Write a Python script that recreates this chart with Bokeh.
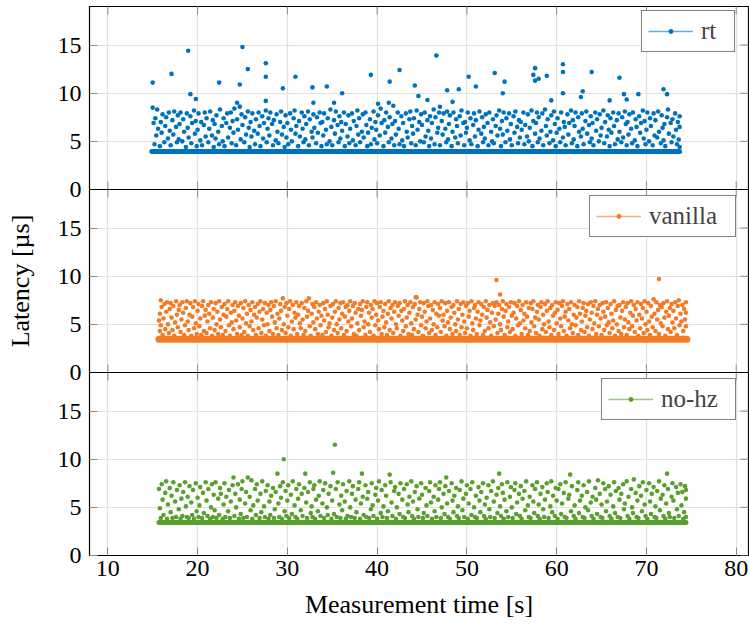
from bokeh.plotting import figure
from bokeh.models import (Range1d, LinearAxis, FixedTicker, Span, Legend, LegendItem,
                          ColumnDataSource)
from bokeh.embed import file_html
from bokeh.resources import INLINE

# ---------------- data ----------------
SERIES = ["rt", "vanilla", "no-hz"]
XTICKS = [10, 20, 30, 40, 50, 60, 70, 80]
YTICKS = [0, 5, 10, 15]
X_START, X_END = 7.96, 81.37
Y_MAX = 19.0
X_LABEL = "Measurement time [s]"
Y_LABEL = "Latency [µs]"

# dense baseline band of each run: (first time, last time, latency)
RT_BASE = (14.9, 73.7, 3.95)
VANILLA_BASE = (15.7, 74.5, 3.45)
NOHZ_BASE = (15.7, 74.4, 3.42)

RT_POINTS = [
(15.0,8.5),(15.1,6.9),(15.2,4.7),(15.3,7.4),(15.4,5.6),(15.5,8.3),(15.6,6.3),(15.8,4.5),(15.9,7.0),
(16.0,5.9),(16.1,7.8),(16.3,4.9),(16.4,6.6),(16.5,7.5),(16.7,5.3),(16.8,8.0),(16.9,6.1),
(17.0,4.6),(17.2,7.2),(17.3,5.7),(17.4,8.1),(17.6,6.5),(17.7,4.9),(17.8,7.7),(17.9,5.2),
(18.0,6.8),(18.1,8.0),(18.3,5.0),(18.4,7.3),(18.5,6.0),(18.7,4.4),(18.8,7.9),(18.9,6.4),
(19.0,5.4),(19.2,7.6),(19.3,4.8),(19.4,6.9),(19.6,8.2),(19.7,5.8),(19.8,7.1),(19.9,4.5),
(20.0,6.2),(20.1,7.9),(20.3,5.1),(20.4,7.0),(20.5,4.6),(20.7,6.7),(20.8,8.0),(20.9,5.5),
(21.0,7.4),(21.2,4.9),(21.3,6.3),(21.4,8.1),(21.6,5.6),(21.7,7.2),(21.8,4.4),(21.9,6.8),
(22.0,5.3),(22.1,7.7),(22.3,6.0),(22.4,4.7),(22.5,8.3),(22.7,6.6),(22.8,5.0),(22.9,7.4),
(23.0,4.5),(23.2,6.9),(23.3,7.9),(23.4,5.4),(23.6,6.4),(23.7,8.0),(23.8,4.8),(23.9,7.1),
(24.0,5.9),(24.1,8.4),(24.3,4.6),(24.4,7.3),(24.5,6.2),(24.7,8.6),(24.8,5.2),(24.9,7.8),
(25.0,6.7),(25.2,4.9),(25.3,7.5),(25.4,5.7),(25.6,8.1),(25.7,6.4),(25.8,4.4),(25.9,7.0),
(26.0,5.5),(26.1,7.9),(26.3,6.1),(26.4,4.7),(26.5,7.3),(26.7,5.8),(26.8,8.0),(26.9,6.6),
(27.0,4.5),(27.2,7.6),(27.3,5.3),(27.4,6.9),(27.6,8.2),(27.7,4.9),(27.8,6.3),(27.9,7.4),
(28.0,5.6),(28.1,8.0),(28.3,6.8),(28.4,4.6),(28.5,7.2),(28.7,5.1),(28.8,7.8),(28.9,6.0),
(29.0,4.8),(29.2,7.0),(29.3,8.1),(29.4,5.7),(29.6,6.5),(29.7,4.4),(29.8,7.7),(29.9,5.4),
(30.0,6.9),(30.1,4.7),(30.3,7.9),(30.4,6.2),(30.5,5.0),(30.7,7.4),(30.8,8.2),(30.9,5.8),
(31.0,6.6),(31.2,4.5),(31.3,7.1),(31.4,5.5),(31.6,8.0),(31.7,6.3),(31.8,4.9),(31.9,7.6),
(32.0,5.2),(32.1,6.8),(32.3,8.1),(32.4,4.6),(32.5,7.3),(32.7,6.0),(32.8,5.4),(32.9,7.8),
(33.0,6.4),(33.2,4.8),(33.3,7.5),(33.4,5.9),(33.6,8.0),(33.7,6.9),(33.8,4.5),(33.9,7.0),
(34.0,5.6),(34.1,7.9),(34.3,6.2),(34.4,4.7),(34.5,7.4),(34.7,5.0),(34.8,8.3),(34.9,6.5),
(35.0,4.6),(35.2,7.2),(35.3,5.8),(35.4,8.1),(35.6,6.7),(35.7,4.9),(35.8,7.6),(35.9,5.3),
(36.0,7.0),(36.1,6.1),(36.3,8.0),(36.4,4.5),(36.5,6.8),(36.7,5.5),(36.8,7.7),(36.9,4.8),
(37.0,6.3),(37.2,7.9),(37.3,5.1),(37.4,7.1),(37.6,4.6),(37.7,6.6),(37.8,8.2),(37.9,5.7),
(38.0,7.4),(38.1,4.9),(38.3,6.0),(38.4,7.8),(38.5,5.4),(38.7,8.0),(38.8,6.7),(38.9,4.5),
(39.0,5.9),(39.2,7.3),(39.3,4.7),(39.4,6.4),(39.6,8.1),(39.7,5.2),(39.8,7.0),(39.9,6.2),
(40.0,4.8),(40.1,7.7),(40.3,5.6),(40.4,8.4),(40.5,6.9),(40.7,4.5),(40.8,7.2),(40.9,5.9),
(41.0,8.0),(41.2,6.5),(41.3,4.9),(41.4,7.5),(41.6,5.3),(41.7,6.8),(41.8,8.7),(41.9,4.6),
(42.0,7.1),(42.1,5.7),(42.3,8.0),(42.4,6.3),(42.5,4.7),(42.7,7.6),(42.8,5.1),(42.9,6.9),
(43.0,4.5),(43.2,7.9),(43.3,6.0),(43.4,5.4),(43.6,7.3),(43.7,8.1),(43.8,4.8),(43.9,6.6),
(44.0,5.8),(44.1,7.4),(44.3,4.6),(44.4,8.2),(44.5,6.2),(44.7,7.0),(44.8,5.0),(44.9,7.8),
(45.0,6.7),(45.2,4.9),(45.3,8.0),(45.4,5.5),(45.6,7.2),(45.7,6.1),(45.8,4.5),(45.9,7.6),
(46.0,5.3),(46.1,6.9),(46.3,8.3),(46.4,4.7),(46.5,7.5),(46.7,5.9),(46.8,6.4),(46.9,8.0),
(47.0,4.6),(47.2,7.1),(47.3,5.7),(47.4,7.9),(47.6,6.3),(47.7,4.9),(47.8,8.1),(47.9,5.2),
(48.0,6.8),(48.1,7.7),(48.3,4.5),(48.4,6.0),(48.5,8.0),(48.7,5.4),(48.8,7.3),(48.9,6.6),
(49.0,4.8),(49.2,7.6),(49.3,5.6),(49.4,8.2),(49.6,6.9),(49.7,4.6),(49.8,7.0),(49.9,5.9),
(50.0,6.4),(50.1,8.0),(50.3,5.1),(50.4,7.4),(50.5,4.7),(50.7,6.7),(50.8,7.9),(50.9,5.5),
(51.0,7.2),(51.2,4.5),(51.3,6.2),(51.4,8.1),(51.6,5.8),(51.7,7.5),(51.8,4.9),(51.9,6.5),
(52.0,5.3),(52.1,7.8),(52.3,6.9),(52.4,4.6),(52.5,8.0),(52.7,6.0),(52.8,5.0),(52.9,7.3),
(53.0,4.8),(53.2,6.6),(53.3,7.7),(53.4,5.6),(53.6,8.2),(53.7,6.3),(53.8,4.5),(53.9,7.1),
(54.0,5.7),(54.1,8.0),(54.3,4.9),(54.4,7.4),(54.5,6.1),(54.7,7.9),(54.8,5.2),(54.9,6.8),
(55.0,4.6),(55.2,7.6),(55.3,5.9),(55.4,8.1),(55.6,6.5),(55.7,4.8),(55.8,7.2),(55.9,5.4),
(56.0,7.0),(56.1,6.2),(56.3,8.0),(56.4,4.7),(56.5,6.7),(56.7,5.5),(56.8,7.8),(56.9,5.0),
(57.0,6.4),(57.2,8.2),(57.3,4.5),(57.4,7.1),(57.6,5.8),(57.7,6.9),(57.8,8.0),(57.9,4.9),
(58.0,7.5),(58.1,5.3),(58.3,6.1),(58.4,7.9),(58.5,4.6),(58.7,8.3),(58.8,6.6),(58.9,5.6),
(59.0,7.3),(59.2,4.8),(59.3,6.0),(59.4,7.7),(59.6,5.1),(59.7,8.1),(59.8,6.8),(59.9,4.5),
(60.0,5.9),(60.1,7.4),(60.3,6.3),(60.4,4.9),(60.5,8.0),(60.7,5.4),(60.8,7.0),(60.9,6.5),
(61.0,4.6),(61.2,7.8),(61.3,5.7),(61.4,6.9),(61.6,8.2),(61.7,4.8),(61.8,7.2),(61.9,5.2),
(62.0,6.6),(62.1,8.0),(62.3,4.5),(62.4,7.5),(62.5,6.0),(62.7,5.5),(62.8,7.9),(62.9,6.3),
(63.0,4.7),(63.2,7.1),(63.3,8.1),(63.4,5.8),(63.6,6.7),(63.7,4.9),(63.8,7.6),(63.9,5.3),
(64.0,6.9),(64.1,4.6),(64.3,8.0),(64.4,6.1),(64.5,7.3),(64.7,5.0),(64.8,7.8),(64.9,5.6),
(65.0,6.4),(65.2,8.2),(65.3,4.8),(65.4,7.0),(65.6,5.5),(65.7,7.7),(65.8,6.2),(65.9,4.5),
(66.0,7.4),(66.1,5.9),(66.3,8.0),(66.4,6.6),(66.5,4.7),(66.7,7.2),(66.8,5.2),(66.9,7.9),
(67.0,6.0),(67.2,4.9),(67.3,7.5),(67.4,5.4),(67.6,8.1),(67.7,6.8),(67.8,4.6),(67.9,7.0),
(68.0,5.7),(68.1,7.8),(68.3,6.3),(68.4,4.8),(68.5,8.0),(68.7,5.1),(68.8,7.3),(68.9,6.5),
(69.0,4.5),(69.2,7.6),(69.3,5.9),(69.4,6.9),(69.6,8.2),(69.7,5.3),(69.8,7.1),(69.9,4.7),
(70.0,6.2),(70.1,8.0),(70.3,5.0),(70.4,7.4),(70.5,6.6),(70.7,4.6),(70.8,7.9),(70.9,5.6),
(71.0,7.2),(71.2,5.4),(71.3,8.1),(71.4,6.0),(71.6,4.8),(71.7,7.7),(71.8,6.4),(71.9,5.1),
(72.0,6.8),(72.1,4.5),(72.3,7.5),(72.4,8.3),(72.5,5.8),(72.7,6.9),(72.8,4.9),(72.9,7.3),
(73.0,5.5),(73.2,7.9),(73.3,6.2),(73.4,4.7),(73.5,7.0),(73.6,5.2),(73.7,6.5),(73.7,4.4),(73.7,7.6),
# sparse high latencies
(15.0,11.1),(17.1,12.0),(18.95,14.4),(19.2,9.9),(19.8,9.4),(22.4,11.1),(25.0,14.8),(25.6,12.5),
(24.7,10.9),(24.4,9.0),(27.6,13.1),(27.6,11.7),(27.6,9.2),(29.5,10.5),(30.9,11.7),(32.8,10.6),
(32.9,9.0),(34.4,10.7),(35.2,9.0),(36.1,10.0),(39.3,11.9),(40.1,8.9),(41.3,9.0),(41.4,11.2),
(42.5,12.4),(44.2,10.8),(44.6,9.7),(45.6,9.3),(46.6,13.9),(47.8,10.3),(47.0,8.6),(49.1,10.4),
(48.4,9.1),(50.2,11.7),(51.0,10.7),(53.1,12.1),(54.2,11.2),(54.0,10.0),(57.6,12.6),(57.4,11.9),
(57.6,11.3),(58.0,11.5),(58.9,11.8),(59.4,9.25),(60.7,13.0),(60.7,12.2),(60.7,10.0),(62.7,9.6),
(62.9,10.2),(63.9,12.2),(65.9,9.25),(67.0,11.6),(67.5,9.9),(67.8,9.35),(69.1,9.9),(71.9,10.4),
(72.3,9.9),
]

VANILLA_POINTS = [
(15.7,5.4),(15.8,6.1),(15.8,4.3),(15.9,7.5),(15.9,4.9),
(16.0,6.8),(16.1,3.9),(16.2,5.6),(16.3,7.1),(16.4,4.5),(16.5,6.3),(16.6,7.3),(16.7,5.0),(16.8,4.1),(16.9,6.6),
(17.0,7.2),(17.1,5.7),(17.2,4.4),(17.3,6.9),(17.4,3.8),(17.5,5.2),(17.6,7.4),(17.7,6.0),(17.8,4.7),(17.9,6.5),
(18.0,7.0),(18.1,4.2),(18.2,5.5),(18.3,7.3),(18.4,6.2),(18.5,3.9),(18.6,4.9),(18.7,6.7),(18.8,7.4),(18.9,5.3),
(19.0,4.4),(19.1,6.0),(19.2,7.2),(19.3,3.8),(19.4,5.8),(19.5,6.8),(19.6,4.6),(19.7,7.4),(19.8,5.1),(19.9,4.0),
(20.0,6.4),(20.1,7.1),(20.2,4.8),(20.3,5.6),(20.4,3.9),(20.5,6.9),(20.6,7.4),(20.7,4.3),(20.8,5.9),(20.9,6.5),
(21.0,4.1),(21.1,5.3),(21.2,7.0),(21.3,6.1),(21.4,4.6),(21.5,7.3),(21.6,3.8),(21.7,5.7),(21.8,6.6),(21.9,4.4),
(22.0,7.2),(22.1,5.0),(22.2,6.3),(22.3,4.0),(22.4,7.4),(22.5,5.5),(22.6,4.7),(22.7,6.8),(22.8,3.9),(22.9,6.0),
(23.0,7.1),(23.1,4.3),(23.2,5.8),(23.3,6.6),(23.4,7.4),(23.5,4.9),(23.6,3.8),(23.7,6.2),(23.8,5.2),(23.9,7.0),
(24.0,4.5),(24.1,6.4),(24.2,7.3),(24.3,5.4),(24.4,4.0),(24.5,6.9),(24.6,5.9),(24.7,4.7),(24.8,7.2),(24.9,3.9),
(25.0,5.6),(25.1,6.7),(25.2,4.2),(25.3,7.4),(25.4,5.1),(25.5,6.1),(25.6,3.8),(25.7,7.0),(25.8,4.8),(25.9,6.5),
(26.0,5.3),(26.1,7.3),(26.2,4.4),(26.3,6.0),(26.4,6.8),(26.5,3.9),(26.6,5.7),(26.7,7.1),(26.8,4.6),(26.9,6.3),
(27.0,7.4),(27.1,4.1),(27.2,5.5),(27.3,6.6),(27.4,4.9),(27.5,7.2),(27.6,3.8),(27.7,6.2),(27.8,5.0),(27.9,7.0),
(28.0,4.3),(28.1,6.5),(28.2,7.3),(28.3,5.8),(28.4,4.0),(28.5,6.9),(28.6,5.2),(28.7,7.4),(28.8,4.6),(28.9,6.1),
(29.0,3.9),(29.1,5.6),(29.2,7.1),(29.3,6.4),(29.4,4.4),(29.5,7.7),(29.6,5.0),(29.7,6.8),(29.8,4.1),(29.9,7.2),
(30.0,5.9),(30.1,4.7),(30.2,6.6),(30.3,7.4),(30.4,3.8),(30.5,5.3),(30.6,7.0),(30.7,4.5),(30.8,6.2),(30.9,5.7),
(31.0,7.3),(31.1,4.0),(31.2,6.0),(31.3,6.9),(31.4,5.1),(31.5,4.6),(31.6,7.2),(31.7,5.5),(31.8,3.9),(31.9,6.7),
(32.0,4.3),(32.1,7.4),(32.2,5.8),(32.3,6.4),(32.4,7.7),(32.5,4.8),(32.6,3.8),(32.7,6.1),(32.8,7.1),(32.9,5.2),
(33.0,6.8),(33.1,4.5),(33.2,7.3),(33.3,5.6),(33.4,4.0),(33.5,6.3),(33.6,7.0),(33.7,4.9),(33.8,5.9),(33.9,3.9),
(34.0,7.2),(34.1,5.4),(34.2,6.6),(34.3,4.2),(34.4,7.4),(34.5,6.0),(34.6,4.7),(34.7,5.1),(34.8,6.9),(34.9,3.8),
(35.0,5.7),(35.1,7.1),(35.2,4.4),(35.3,6.3),(35.4,7.4),(35.5,5.0),(35.6,4.1),(35.7,6.7),(35.8,5.5),(35.9,7.2),
(36.0,4.6),(36.1,6.1),(36.2,7.3),(36.3,3.9),(36.4,5.8),(36.5,6.8),(36.6,4.3),(36.7,7.0),(36.8,5.3),(36.9,6.4),
(37.0,7.4),(37.1,4.8),(37.2,5.6),(37.3,6.9),(37.4,4.0),(37.5,7.2),(37.6,6.2),(37.7,3.8),(37.8,5.1),(37.9,6.6),
(38.0,4.4),(38.1,7.1),(38.2,5.9),(38.3,6.5),(38.4,7.4),(38.5,4.7),(38.6,5.3),(38.7,3.9),(38.8,6.8),(38.9,7.3),
(39.0,5.0),(39.1,6.2),(39.2,4.2),(39.3,7.0),(39.4,5.7),(39.5,6.6),(39.6,3.8),(39.7,7.4),(39.8,4.9),(39.9,6.0),
(40.0,7.2),(40.1,5.4),(40.2,4.5),(40.3,6.8),(40.4,7.3),(40.5,4.0),(40.6,5.8),(40.7,6.4),(40.8,4.7),(40.9,7.1),
(41.0,5.2),(41.1,3.9),(41.2,6.1),(41.3,7.4),(41.4,4.4),(41.5,6.7),(41.6,5.6),(41.7,7.0),(41.8,4.1),(41.9,6.3),
(42.0,7.3),(42.1,5.0),(42.2,4.6),(42.3,6.9),(42.4,5.9),(42.5,7.2),(42.6,3.8),(42.7,6.4),(42.8,5.4),(42.9,4.3),
(43.0,6.6),(43.1,7.4),(43.2,4.8),(43.3,5.7),(43.4,7.0),(43.5,4.0),(43.6,6.2),(43.7,7.3),(43.8,5.1),(43.9,3.9),
(44.0,6.8),(44.1,4.5),(44.2,7.1),(44.3,5.5),(44.4,7.8),(44.5,6.0),(44.6,4.2),(44.7,6.6),(44.8,7.3),(44.9,4.9),
(45.0,5.8),(45.1,3.8),(45.2,7.2),(45.3,6.3),(45.4,4.6),(45.5,5.3),(45.6,7.4),(45.7,6.9),(45.8,4.1),(45.9,5.6),
(46.0,7.0),(46.1,4.4),(46.2,6.5),(46.3,5.0),(46.4,7.3),(46.5,3.9),(46.6,6.1),(46.7,4.7),(46.8,7.1),(46.9,5.9),
(47.0,6.7),(47.1,4.2),(47.2,7.4),(47.3,5.4),(47.4,6.0),(47.5,4.8),(47.6,7.2),(47.7,3.8),(47.8,6.4),(47.9,5.2),
(48.0,7.3),(48.1,4.5),(48.2,5.7),(48.3,6.8),(48.4,4.0),(48.5,7.0),(48.6,6.2),(48.7,5.0),(48.8,4.3),(48.9,7.4),
(49.0,5.5),(49.1,6.6),(49.2,3.9),(49.3,7.1),(49.4,4.7),(49.5,6.0),(49.6,7.3),(49.7,5.3),(49.8,4.1),(49.9,6.9),
(50.0,4.6),(50.1,7.2),(50.2,5.8),(50.3,6.4),(50.4,3.8),(50.5,7.4),(50.6,5.1),(50.7,4.4),(50.8,6.7),(50.9,7.0),
(51.0,5.6),(51.1,4.0),(51.2,6.3),(51.3,7.3),(51.4,4.9),(51.5,5.4),(51.6,7.1),(51.7,6.0),(51.8,3.9),(51.9,6.8),
(52.0,4.3),(52.1,7.4),(52.2,5.7),(52.3,6.5),(52.4,4.6),(52.5,7.0),(52.6,5.2),(52.7,3.8),(52.8,6.2),(52.9,7.2),
(53.0,4.8),(53.1,6.9),(53.2,5.5),(53.3,7.3),(53.4,4.1),(53.5,6.1),(53.6,7.0),(53.7,5.0),(53.8,4.4),(53.9,6.6),
(54.0,7.4),(54.1,5.8),(54.2,3.9),(54.3,6.4),(54.4,7.1),(54.5,4.7),(54.6,5.3),(54.7,6.8),(54.8,4.2),(54.9,7.3),
(55.0,5.9),(55.1,4.5),(55.2,6.2),(55.3,7.2),(55.4,3.8),(55.5,5.6),(55.6,6.9),(55.7,4.9),(55.8,7.4),(55.9,5.1),
(56.0,6.5),(56.1,4.0),(56.2,7.0),(56.3,5.4),(56.4,6.1),(56.5,4.6),(56.6,7.3),(56.7,5.8),(56.8,3.9),(56.9,6.7),
(57.0,4.3),(57.1,7.2),(57.2,5.2),(57.3,6.6),(57.4,7.4),(57.5,4.8),(57.6,5.7),(57.7,4.1),(57.8,6.3),(57.9,7.0),
(58.0,5.5),(58.1,3.8),(58.2,6.8),(58.3,7.3),(58.4,4.5),(58.5,6.0),(58.6,5.0),(58.7,7.1),(58.8,4.2),(58.9,6.4),
(59.0,7.4),(59.1,5.3),(59.2,4.7),(59.3,6.7),(59.4,3.9),(59.5,7.0),(59.6,5.9),(59.7,4.4),(59.8,6.2),(59.9,7.3),
(60.0,5.1),(60.1,6.5),(60.2,4.0),(60.3,7.2),(60.4,5.6),(60.5,4.8),(60.6,6.9),(60.7,7.4),(60.8,4.3),(60.9,5.8),
(61.0,6.3),(61.1,3.8),(61.2,7.1),(61.3,5.4),(61.4,6.6),(61.5,4.6),(61.6,7.3),(61.7,5.0),(61.8,4.1),(61.9,6.0),
(62.0,7.0),(62.1,4.9),(62.2,5.7),(62.3,6.8),(62.4,3.9),(62.5,7.4),(62.6,6.1),(62.7,4.4),(62.8,5.3),(62.9,6.7),
(63.0,7.2),(63.1,4.2),(63.2,5.9),(63.3,6.4),(63.4,4.7),(63.5,7.1),(63.6,3.8),(63.7,5.5),(63.8,7.3),(63.9,6.2),
(64.0,4.5),(64.1,6.9),(64.2,5.1),(64.3,7.4),(64.4,4.0),(64.5,6.0),(64.6,6.6),(64.7,4.8),(64.8,7.0),(64.9,5.6),
(65.0,3.9),(65.1,7.2),(65.2,6.3),(65.3,4.4),(65.4,5.8),(65.5,7.3),(65.6,4.9),(65.7,6.7),(65.8,5.2),(65.9,4.1),
(66.0,7.1),(66.1,6.1),(66.2,4.6),(66.3,5.4),(66.4,7.4),(66.5,3.8),(66.6,6.5),(66.7,5.0),(66.8,6.9),(66.9,4.3),
(67.0,7.0),(67.1,5.7),(67.2,4.0),(67.3,6.4),(67.4,7.3),(67.5,4.7),(67.6,5.5),(67.7,6.8),(67.8,3.9),(67.9,7.2),
(68.0,5.2),(68.1,4.5),(68.2,6.2),(68.3,7.4),(68.4,4.8),(68.5,5.9),(68.6,7.0),(68.7,4.2),(68.8,6.6),(68.9,5.4),
(69.0,7.3),(69.1,3.8),(69.2,6.0),(69.3,4.6),(69.4,7.1),(69.5,5.6),(69.6,6.7),(69.7,4.1),(69.8,7.4),(69.9,5.0),
(70.0,6.3),(70.1,4.4),(70.2,7.2),(70.3,5.3),(70.4,3.9),(70.5,6.9),(70.6,5.8),(70.7,4.7),(70.8,7.6),(70.9,6.1),
(71.0,4.3),(71.1,7.3),(71.2,5.5),(71.3,6.5),(71.4,4.0),(71.5,7.0),(71.6,5.1),(71.7,6.8),(71.8,4.8),(71.9,7.2),
(72.0,5.7),(72.1,3.8),(72.2,6.3),(72.3,7.4),(72.4,4.5),(72.5,5.9),(72.6,6.7),(72.7,4.2),(72.8,7.1),(72.9,5.2),
(73.0,6.4),(73.1,4.6),(73.2,7.3),(73.3,5.6),(73.4,3.9),(73.5,6.9),(73.6,7.5),(73.7,4.9),(73.8,6.1),(73.9,5.3),
(74.0,7.0),(74.1,4.3),(74.2,6.6),(74.3,5.5),(74.4,7.3),(74.4,4.8),(74.4,6.2),
# sparse high latencies
(53.3,9.6),(53.7,8.1),(71.4,9.7),(44.3,7.8),
]

NOHZ_POINTS = [
(15.7,6.9),(15.8,4.9),(15.9,3.9),(16.0,7.4),(16.1,5.8),(16.2,4.2),(16.4,6.5),(16.5,7.7),(16.6,3.8),(16.7,5.3),(16.9,7.0),
(17.0,4.5),(17.1,6.2),(17.2,3.9),(17.3,7.6),(17.5,5.6),(17.6,4.0),(17.7,6.8),(17.9,4.8),
(18.0,7.3),(18.1,3.8),(18.2,5.9),(18.3,4.1),(18.4,6.6),(18.6,7.6),(18.7,5.1),(18.8,4.0),(18.9,6.1),
(19.0,3.9),(19.1,7.2),(19.3,5.5),(19.4,4.2),(19.5,6.8),(19.6,3.8),(19.8,7.5),(19.9,4.6),
(20.0,6.0),(20.1,4.0),(20.2,5.2),(20.3,7.1),(20.5,3.9),(20.6,6.5),(20.7,4.4),(20.9,7.6),
(21.0,5.7),(21.1,4.1),(21.2,6.9),(21.4,3.8),(21.5,5.0),(21.6,7.4),(21.7,4.0),(21.8,6.3),(21.9,4.7),
(22.0,7.6),(22.1,3.9),(22.3,5.9),(22.4,4.2),(22.5,7.0),(22.6,6.4),(22.8,3.8),(22.9,5.3),
(23.0,7.5),(23.1,4.0),(23.2,6.1),(23.4,4.6),(23.5,6.8),(23.6,3.9),(23.7,5.6),(23.9,7.3),
(24.0,8.1),(24.1,4.1),(24.2,6.4),(24.3,5.0),(24.5,7.4),(24.6,3.8),(24.7,5.8),(24.8,4.3),(24.9,6.9),
(25.0,7.7),(25.1,3.9),(25.3,5.4),(25.4,6.6),(25.5,4.0),(25.6,8.1),(25.8,6.1),(25.9,4.7),
(26.0,7.8),(26.1,3.8),(26.2,5.2),(26.4,6.9),(26.5,4.2),(26.6,7.4),(26.7,5.7),(26.9,3.9),
(27.0,6.4),(27.1,4.5),(27.2,7.7),(27.4,5.1),(27.5,4.0),(27.6,6.7),(27.8,7.3),(27.9,3.8),
(28.0,5.6),(28.1,4.2),(28.2,6.2),(28.4,7.0),(28.5,3.9),(28.6,4.8),(28.7,6.6),(28.9,8.5),
(29.0,5.4),(29.1,4.0),(29.2,7.2),(29.3,6.0),(29.4,3.8),(29.5,7.6),(29.6,10.0),(29.7,4.6),(29.8,6.7),(29.9,4.1),
(30.0,5.7),(30.1,7.3),(30.2,3.9),(30.4,6.3),(30.5,4.3),(30.6,7.7),(30.8,5.2),(30.9,4.0),
(31.0,6.9),(31.1,3.8),(31.2,5.9),(31.3,7.4),(31.5,4.7),(31.6,6.4),(31.7,4.1),(31.9,7.0),
(32.0,8.5),(32.1,5.5),(32.2,3.9),(32.3,6.6),(32.5,7.6),(32.6,4.4),(32.7,5.1),(32.8,4.0),(32.9,6.9),
(33.0,7.3),(33.1,3.8),(33.2,5.8),(33.4,4.6),(33.5,6.2),(33.6,7.7),(33.7,4.1),(33.9,5.4),
(34.0,6.8),(34.1,3.9),(34.2,7.5),(34.4,5.0),(34.5,4.2),(34.6,6.4),(34.8,7.2),(34.9,3.8),
(35.0,5.7),(35.1,8.6),(35.2,4.3),(35.3,11.5),(35.4,6.9),(35.5,4.0),(35.6,7.6),(35.8,5.3),(35.9,3.9),
(36.0,6.2),(36.1,4.7),(36.2,7.4),(36.4,5.6),(36.5,3.8),(36.6,6.7),(36.7,4.1),(36.9,7.7),
(37.0,5.0),(37.1,4.0),(37.2,6.4),(37.3,7.2),(37.5,3.9),(37.6,5.8),(37.7,4.5),(37.9,6.9),
(38.0,7.6),(38.1,3.8),(38.2,5.4),(38.3,8.5),(38.4,6.1),(38.5,4.2),(38.7,7.3),(38.8,4.0),(38.9,5.9),
(39.0,6.6),(39.1,3.9),(39.3,4.8),(39.4,7.5),(39.5,5.2),(39.6,4.1),(39.8,6.3),(39.9,7.0),
(40.0,3.8),(40.1,5.7),(40.2,7.7),(40.4,4.4),(40.5,6.8),(40.6,4.0),(40.7,5.1),(40.9,7.3),
(41.0,6.2),(41.1,3.9),(41.2,4.6),(41.4,8.4),(41.5,7.6),(41.6,5.5),(41.7,4.1),(41.9,6.7),
(42.0,7.1),(42.1,3.8),(42.2,5.0),(42.4,6.4),(42.5,4.3),(42.6,7.5),(42.8,5.8),(42.9,4.0),
(43.0,6.9),(43.1,3.9),(43.3,7.4),(43.4,5.3),(43.5,4.5),(43.6,6.1),(43.8,7.7),(43.9,4.1),
(44.0,5.6),(44.1,3.8),(44.2,6.6),(44.4,7.2),(44.5,4.8),(44.6,4.0),(44.7,5.9),(44.9,7.5),
(45.0,6.3),(45.1,3.9),(45.2,4.4),(45.4,7.0),(45.5,5.2),(45.6,4.1),(45.8,6.7),(45.9,7.6),
(46.0,5.5),(46.1,3.8),(46.3,6.1),(46.4,4.6),(46.5,7.3),(46.6,4.0),(46.8,5.8),(46.9,6.9),
(47.0,7.6),(47.1,3.9),(47.2,5.0),(47.4,6.4),(47.5,4.3),(47.6,7.2),(47.7,8.1),(47.8,5.4),(47.9,4.0),
(48.0,6.7),(48.1,3.8),(48.3,7.5),(48.4,5.7),(48.5,4.5),(48.6,6.2),(48.8,7.0),(48.9,4.1),
(49.0,5.1),(49.1,3.9),(49.2,6.8),(49.4,7.7),(49.5,4.7),(49.6,5.9),(49.7,4.0),(49.9,6.4),
(50.0,7.3),(50.1,3.8),(50.2,5.4),(50.4,6.9),(50.5,4.2),(50.6,7.6),(50.8,5.0),(50.9,4.0),
(51.0,6.2),(51.1,3.9),(51.3,7.1),(51.4,5.7),(51.5,4.5),(51.6,6.6),(51.8,7.5),(51.9,4.1),
(52.0,5.3),(52.1,3.8),(52.2,6.0),(52.4,7.3),(52.5,4.8),(52.6,4.0),(52.7,6.7),(52.9,7.7),
(53.0,5.6),(53.1,3.9),(53.3,6.3),(53.4,4.4),(53.5,7.0),(53.6,8.5),(53.7,5.1),(53.8,4.1),(53.9,7.4),
(54.0,6.5),(54.1,3.8),(54.2,5.8),(54.4,4.6),(54.5,7.6),(54.6,4.0),(54.8,6.1),(54.9,7.1),
(55.0,5.0),(55.1,3.9),(55.3,6.8),(55.4,7.5),(55.5,4.3),(55.6,5.5),(55.8,6.4),(55.9,4.1),
(56.0,7.2),(56.1,3.8),(56.2,5.9),(56.4,6.7),(56.5,4.7),(56.6,7.7),(56.8,5.2),(56.9,4.0),
(57.0,6.1),(57.1,3.9),(57.3,7.3),(57.4,5.6),(57.5,4.4),(57.6,6.9),(57.8,7.6),(57.9,4.1),
(58.0,5.3),(58.1,3.8),(58.2,6.4),(58.4,7.1),(58.5,4.8),(58.6,4.0),(58.7,5.8),(58.9,7.5),
(59.0,6.6),(59.1,3.9),(59.3,5.1),(59.4,7.7),(59.5,4.5),(59.6,6.2),(59.8,4.1),(59.9,7.0),
(60.0,5.7),(60.1,3.8),(60.2,6.9),(60.4,7.4),(60.5,4.3),(60.6,5.4),(60.8,6.5),(60.9,4.0),
(61.0,7.6),(61.1,3.9),(61.3,5.9),(61.4,6.3),(61.5,8.4),(61.6,4.6),(61.7,7.2),(61.9,4.1),
(62.0,5.2),(62.1,3.8),(62.3,6.8),(62.4,7.6),(62.5,4.4),(62.6,5.7),(62.8,6.2),(62.9,4.0),
(63.0,7.3),(63.1,3.9),(63.2,5.0),(63.4,6.6),(63.5,4.7),(63.6,7.7),(63.8,5.5),(63.9,4.1),
(64.0,6.1),(64.1,3.8),(64.3,7.0),(64.4,5.8),(64.5,4.3),(64.6,7.8),(64.8,6.4),(64.9,4.0),
(65.0,5.3),(65.1,3.9),(65.2,7.5),(65.4,6.9),(65.5,4.6),(65.6,5.6),(65.8,7.2),(65.9,4.1),
(66.0,6.3),(66.1,3.8),(66.3,5.1),(66.4,7.6),(66.5,4.4),(66.6,6.7),(66.8,4.0),(66.9,7.0),
(67.0,5.8),(67.1,3.9),(67.2,6.4),(67.4,7.4),(67.5,4.8),(67.6,5.4),(67.8,7.7),(67.9,4.1),
(68.0,6.1),(68.1,3.8),(68.3,6.9),(68.4,5.0),(68.5,4.4),(68.6,7.9),(68.8,6.5),(68.9,4.0),
(69.0,5.7),(69.1,3.9),(69.2,7.2),(69.4,6.2),(69.5,4.6),(69.6,7.6),(69.8,5.3),(69.9,4.1),
(70.0,6.8),(70.1,3.8),(70.3,7.5),(70.4,5.6),(70.5,4.3),(70.6,6.4),(70.8,7.1),(70.9,4.0),
(71.0,5.1),(71.1,3.9),(71.2,6.7),(71.4,7.7),(71.5,4.7),(71.6,5.9),(71.8,6.3),(71.9,4.1),
(72.0,7.3),(72.1,3.8),(72.2,5.4),(72.3,8.5),(72.4,6.9),(72.5,4.4),(72.6,4.0),(72.8,6.1),(72.9,7.5),
(73.0,5.7),(73.1,3.9),(73.3,7.1),(73.4,4.8),(73.5,6.5),(73.6,4.1),(73.8,7.4),(73.9,5.2),
(74.0,6.6),(74.1,3.8),(74.2,4.5),(74.3,7.2),(74.4,5.9),(74.4,4.0),(74.4,6.8),
]

# ---------------- styles / layout ----------------
COLORS = {"rt": "#0072BD", "vanilla": "#F47B25", "no-hz": "#5AA02C"}
POINTS = {"rt": RT_POINTS, "vanilla": VANILLA_POINTS, "no-hz": NOHZ_POINTS}
BASES = {"rt": RT_BASE, "vanilla": VANILLA_BASE, "no-hz": NOHZ_BASE}
BASE_WIDTH = {"rt": 5, "vanilla": 7, "no-hz": 5}
PANEL_FROM_TOP = {"rt": 0, "vanilla": 1, "no-hz": 2}
LEGEND_POS = {"rt": (552, 503), "vanilla": (500, 318), "no-hz": (512, 135)}
LEGEND_LABEL_W = {"rt": 27, "vanilla": 80, "no-hz": 68}
FONT = "Liberation Serif"
TICK_FS = "24px"
LABEL_FS = "26px"
LEGEND_FS = "25px"
TICK_PX = 8
FRAME_W = 659
FRAME_H = 549
MARKER = 4.6
GRID = "#e1e1e1"
TICKC = "#8a8a8a"

n_panels = len(SERIES)
total = n_panels * Y_MAX

p = figure(width=749, height=627, x_range=Range1d(X_START, X_END),
           y_range=Range1d(0, total), output_backend="svg", toolbar_location=None,
           x_axis_location=None, y_axis_location=None,
           min_border_left=89, min_border_right=1, min_border_top=6, min_border_bottom=72)
p.background_fill_color = "white"
p.border_fill_color = "white"
p.outline_line_color = "black"
p.outline_line_width = 1.2

# combined tick positions on the primary range
all_yticks = []
overrides = {}
for k in range(n_panels):
    for t in YTICKS:
        pos = k * Y_MAX + t
        all_yticks.append(pos)
        overrides[pos] = str(t)

def style_axis(ax):
    ax.axis_line_color = None
    ax.major_tick_in = TICK_PX
    ax.major_tick_out = 0
    ax.minor_tick_in = 0
    ax.minor_tick_out = 0
    ax.major_tick_line_color = TICKC
    ax.major_tick_line_width = 1
    ax.major_label_text_font = FONT
    ax.major_label_text_font_size = TICK_FS
    ax.major_label_text_color = "black"
    ax.axis_label_text_font = FONT
    ax.axis_label_text_font_style = "normal"
    ax.axis_label_text_font_size = LABEL_FS
    ax.axis_label_text_color = "black"

left = LinearAxis(ticker=FixedTicker(ticks=all_yticks), major_label_overrides=overrides,
                  axis_label=Y_LABEL)
style_axis(left)
left.major_label_standoff = 8
left.axis_label_standoff = 20
bottom = LinearAxis(ticker=FixedTicker(ticks=XTICKS), axis_label=X_LABEL)
style_axis(bottom)
bottom.major_label_standoff = 5
bottom.axis_label_standoff = 11
p.add_layout(left, "left")
p.add_layout(bottom, "below")

p.xgrid.ticker = FixedTicker(ticks=XTICKS)
p.ygrid.ticker = FixedTicker(ticks=all_yticks)
for g in (p.xgrid, p.ygrid):
    g.grid_line_color = GRID
    g.grid_line_width = 1.2

# inward ticks on the top border, the inner panel borders and the right border
ty = TICK_PX * total / FRAME_H
tx = TICK_PX * (X_END - X_START) / FRAME_W
sx0, sy0, sx1, sy1 = [], [], [], []
for t in XTICKS:
    sx0.append(t); sx1.append(t); sy0.append(total - ty); sy1.append(total)
    for k in range(1, n_panels):
        b = k * Y_MAX
        sx0.append(t); sx1.append(t); sy0.append(b - ty); sy1.append(b + ty)
for v in all_yticks:
    sx0.append(X_END - tx); sx1.append(X_END); sy0.append(v); sy1.append(v)
p.segment(x0=sx0, y0=sy0, x1=sx1, y1=sy1, line_color=TICKC, line_width=1)

for k in range(1, n_panels):
    p.add_layout(Span(location=k * Y_MAX, dimension="width", line_color="black",
                      line_width=1.2))

for name in SERIES:
    k = PANEL_FROM_TOP[name]
    offset = (n_panels - 1 - k) * Y_MAX
    rname = "r_" + name
    p.extra_y_ranges[rname] = Range1d(-offset, total - offset)
    col = COLORS[name]
    b0, b1, lvl = BASES[name]
    p.segment(x0=[b0], y0=[lvl], x1=[b1], y1=[lvl], y_range_name=rname,
              line_color=col, line_width=BASE_WIDTH[name], line_cap="round")
    pts = POINTS[name]
    src = ColumnDataSource(data=dict(t=[q[0] for q in pts], lat=[q[1] for q in pts]))
    sc = p.scatter("t", "lat", source=src, size=MARKER, marker="circle",
                   fill_color=col, line_color=None, y_range_name=rname)
    proxy = p.line(x=[float("nan")], y=[float("nan")], line_color=col, line_alpha=0.6,
                   line_width=1.5, y_range_name=rname)
    leg = Legend(items=[LegendItem(label=name, renderers=[proxy, sc])],
                 location=LEGEND_POS[name], orientation="vertical",
                 label_text_font=FONT, label_text_font_size=LEGEND_FS,
                 glyph_width=45, glyph_height=12, label_height=24,
                 label_width=LEGEND_LABEL_W[name], label_standoff=8,
                 padding=6, spacing=0, margin=0,
                 border_line_color="black", border_line_width=1,
                 background_fill_color="white", background_fill_alpha=1.0)
    p.add_layout(leg, "center")

open("out.html", "w").write(file_html(p, INLINE))
